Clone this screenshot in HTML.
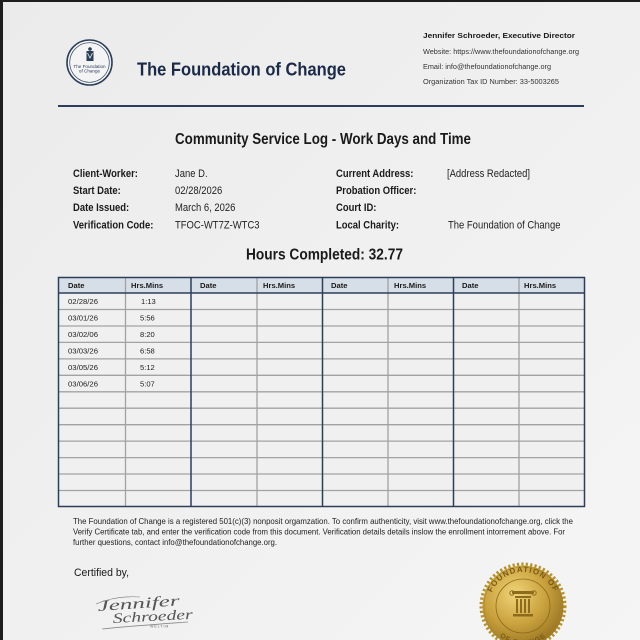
<!DOCTYPE html>
<html><head><meta charset="utf-8"><style>
html,body{margin:0;padding:0;width:640px;height:640px;overflow:hidden;background:#eee}
svg{display:block}
text{font-family:"Liberation Sans",Arial,sans-serif}
</style></head><body>
<svg width="640" height="640" viewBox="0 0 640 640" xmlns="http://www.w3.org/2000/svg">
<defs>
<linearGradient id="bg" x1="0" y1="0" x2="1" y2="1">
<stop offset="0" stop-color="#ebebeb"/><stop offset="1" stop-color="#f5f5f5"/>
</linearGradient>
<radialGradient id="gold" cx="0.4" cy="0.35" r="0.75">
<stop offset="0" stop-color="#f0d478"/><stop offset="0.5" stop-color="#caa23e"/><stop offset="1" stop-color="#8d6a1c"/>
</radialGradient>
<path id="arcTop" d="M 489 606 A 34 34 0 0 1 557 606"/>
<path id="arcBot" d="M 487 609 A 36 36 0 0 0 559 609"/>
</defs>
<rect width="640" height="640" fill="url(#bg)"/>
<rect x="0" y="0" width="640" height="2" fill="#1e1e1e"/>
<rect x="0" y="0" width="3" height="640" fill="#1e1e1e"/>

<!-- Logo -->
<circle cx="89.5" cy="62.5" r="22.5" fill="#f4f4f4" stroke="#2c3e5a" stroke-width="1.6"/>
<circle cx="89.5" cy="62.5" r="19.8" fill="none" stroke="#2c3e5a" stroke-width="0.7"/>
<rect x="86.5" y="51" width="7" height="10" fill="#2c3e5a"/>
<circle cx="90" cy="49" r="1.8" fill="#2c3e5a"/>
<path d="M87.5 53 L90 58 L92.5 53" fill="none" stroke="#f4f4f4" stroke-width="0.8"/>
<text x="89.5" y="68" font-size="4.6" fill="#2c3e5a" text-anchor="middle">The Foundation</text>
<text x="89.5" y="72.5" font-size="4.6" fill="#2c3e5a" text-anchor="middle">of Change</text>

<text x="137" y="75.5" font-size="18" font-weight="bold" fill="#1b2a48" textLength="209" lengthAdjust="spacingAndGlyphs">The Foundation of Change</text>

<text x="423" y="38" font-size="7.6" font-weight="bold" fill="#1a1a1a" textLength="152" lengthAdjust="spacingAndGlyphs">Jennifer Schroeder, Executive Director</text>
<text x="423" y="54" font-size="7.6" fill="#333" textLength="156" lengthAdjust="spacingAndGlyphs">Website: https://www.thefoundationofchange.org</text>
<text x="423" y="69" font-size="7.6" fill="#333" textLength="128" lengthAdjust="spacingAndGlyphs">Email: info@thefoundationofchange.org</text>
<text x="423" y="84" font-size="7.6" fill="#333" textLength="136" lengthAdjust="spacingAndGlyphs">Organization Tax ID Number: 33-5003265</text>

<rect x="58" y="105" width="526" height="2" fill="#2c3e5a"/>

<text x="175" y="144" font-size="16" font-weight="bold" fill="#1a1a1a" textLength="296" lengthAdjust="spacingAndGlyphs">Community Service Log - Work Days and Time</text>

<g font-size="11" fill="#1a1a1a">
<text transform="translate(73,177) scale(0.86,1)" font-weight="bold">Client-Worker:</text>
<text transform="translate(73,194) scale(0.86,1)" font-weight="bold">Start Date:</text>
<text transform="translate(73,211) scale(0.86,1)" font-weight="bold">Date Issued:</text>
<text transform="translate(73,228.5) scale(0.86,1)" font-weight="bold">Verification Code:</text>
<text transform="translate(175,177) scale(0.86,1)" fill="#222">Jane D.</text>
<text transform="translate(175,194) scale(0.86,1)" fill="#222">02/28/2026</text>
<text transform="translate(175,211) scale(0.86,1)" fill="#222">March 6, 2026</text>
<text transform="translate(175,228.5) scale(0.86,1)" fill="#222">TFOC-WT7Z-WTC3</text>
<text transform="translate(336,177) scale(0.86,1)" font-weight="bold">Current Address:</text>
<text transform="translate(336,194) scale(0.86,1)" font-weight="bold">Probation Officer:</text>
<text transform="translate(336,211) scale(0.86,1)" font-weight="bold">Court ID:</text>
<text transform="translate(336,228.5) scale(0.86,1)" font-weight="bold">Local Charity:</text>
<text transform="translate(447,177) scale(0.86,1)" fill="#222">[Address Redacted]</text>
<text transform="translate(448,228.5) scale(0.86,1)" fill="#222">The Foundation of Change</text>
</g>

<text x="246" y="259.5" font-size="15.5" font-weight="bold" fill="#1a1a1a" textLength="157" lengthAdjust="spacingAndGlyphs">Hours Completed: 32.77</text>

<!-- Table -->
<rect x="58" y="277" width="527" height="230" fill="#f0f0f0"/>
<rect x="58" y="277" width="527" height="16" fill="#d6dee7"/>
<g stroke="#a2a2a2" stroke-width="1.3">
<line x1="58" y1="309.5" x2="585" y2="309.5"/>
<line x1="58" y1="326" x2="585" y2="326"/>
<line x1="58" y1="342.4" x2="585" y2="342.4"/>
<line x1="58" y1="358.9" x2="585" y2="358.9"/>
<line x1="58" y1="375.3" x2="585" y2="375.3"/>
<line x1="58" y1="391.8" x2="585" y2="391.8"/>
<line x1="58" y1="408.2" x2="585" y2="408.2"/>
<line x1="58" y1="424.7" x2="585" y2="424.7"/>
<line x1="58" y1="441.1" x2="585" y2="441.1"/>
<line x1="58" y1="457.6" x2="585" y2="457.6"/>
<line x1="58" y1="474" x2="585" y2="474"/>
<line x1="58" y1="490.5" x2="585" y2="490.5"/>
<line x1="125.5" y1="277" x2="125.5" y2="507"/>
<line x1="257" y1="277" x2="257" y2="507"/>
<line x1="388" y1="277" x2="388" y2="507"/>
<line x1="519" y1="277" x2="519" y2="507"/>
</g>
<g stroke="#2c3e5a" stroke-width="1.5" fill="none">
<rect x="58.5" y="277.5" width="526" height="229"/>
<line x1="58" y1="293" x2="585" y2="293"/>
<line x1="191" y1="277" x2="191" y2="507"/>
<line x1="322.5" y1="277" x2="322.5" y2="507"/>
<line x1="453.5" y1="277" x2="453.5" y2="507"/>
</g>
<g font-size="7.6" font-weight="bold" fill="#1a1a1a">
<text x="68" y="288">Date</text><text x="131" y="288">Hrs.Mins</text>
<text x="200" y="288">Date</text><text x="263" y="288">Hrs.Mins</text>
<text x="331" y="288">Date</text><text x="394" y="288">Hrs.Mins</text>
<text x="462" y="288">Date</text><text x="524" y="288">Hrs.Mins</text>
</g>
<g font-size="7.6" fill="#222">
<text x="68" y="304" textLength="30" lengthAdjust="spacingAndGlyphs">02/28/26</text><text x="141" y="304">1:13</text>
<text x="68" y="320.5" textLength="30" lengthAdjust="spacingAndGlyphs">03/01/26</text><text x="140" y="320.5">5:56</text>
<text x="68" y="337" textLength="30" lengthAdjust="spacingAndGlyphs">03/02/06</text><text x="140" y="337">8:20</text>
<text x="68" y="353.5" textLength="30" lengthAdjust="spacingAndGlyphs">03/03/26</text><text x="140" y="353.5">6:58</text>
<text x="68" y="370" textLength="30" lengthAdjust="spacingAndGlyphs">03/05/26</text><text x="140" y="370">5:12</text>
<text x="68" y="386.5" textLength="30" lengthAdjust="spacingAndGlyphs">03/06/26</text><text x="140" y="386.5">5:07</text>
</g>

<!-- Footer -->
<g font-size="8" fill="#222">
<text x="73" y="524" textLength="500" lengthAdjust="spacingAndGlyphs">The Foundation of Change is a registered 501(c)(3) nonposit orgamzation. To confirm authenticity, visit www.thefoundationofchange.org, click the</text>
<text x="73" y="534.5" textLength="492" lengthAdjust="spacingAndGlyphs">Verify Certificate tab, and enter the verification code from this document. Verification details details inslow the enrollment intorrement above. For</text>
<text x="73" y="545" textLength="204" lengthAdjust="spacingAndGlyphs">further questions, contact info@thefoundationofchange.org.</text>
</g>
<text x="74" y="576" font-size="11" fill="#1a1a1a" textLength="55" lengthAdjust="spacingAndGlyphs">Certified by,</text>

<!-- Signature -->
<g fill="#555" font-style="italic">
<text x="98" y="611" font-size="15" transform="rotate(-4 98 611)" style="font-family:'Liberation Serif',serif" textLength="82" lengthAdjust="spacingAndGlyphs">Jennifer</text>
<text x="113" y="623" font-size="14" transform="rotate(-3 113 623)" style="font-family:'Liberation Serif',serif" textLength="80" lengthAdjust="spacingAndGlyphs">Schroeder</text>
</g>
<text x="150" y="627.5" font-size="3.5" fill="#666" letter-spacing="1">WELTIM</text>
<path d="M102 629 C130 626 160 624 188 622" stroke="#888" stroke-width="0.8" fill="none"/>
<path d="M96 604 C110 598 125 596 140 597" stroke="#777" stroke-width="0.6" fill="none"/>

<!-- Seal -->
<circle cx="523" cy="606" r="41.5" fill="none" stroke="#b8912e" stroke-width="4" stroke-dasharray="2.2 2.2"/>
<circle cx="523" cy="606" r="40.5" fill="url(#gold)"/>
<circle cx="523" cy="606" r="39" fill="none" stroke="#a88425" stroke-width="0.6"/>
<circle cx="523" cy="606" r="27" fill="none" stroke="#8d6a1c" stroke-width="0.8"/>
<text font-size="8" font-weight="bold" fill="#7a5a14" letter-spacing="1"><textPath href="#arcTop" startOffset="50%" text-anchor="middle">FOUNDATION OF</textPath></text>
<text font-size="7" font-weight="bold" fill="#7a5a14" letter-spacing="1"><textPath href="#arcBot" startOffset="50%" text-anchor="middle">OF CHANGE</textPath></text>
<g fill="#8d6a1c">
<rect x="512" y="591" width="22" height="3" rx="1"/>
<circle cx="512" cy="593" r="2.2" fill="none" stroke="#8d6a1c" stroke-width="1"/>
<circle cx="534" cy="593" r="2.2" fill="none" stroke="#8d6a1c" stroke-width="1"/>
<rect x="515" y="596" width="16" height="2"/>
<rect x="516" y="599" width="2" height="14"/>
<rect x="520" y="599" width="2" height="14"/>
<rect x="524" y="599" width="2" height="14"/>
<rect x="528" y="599" width="2" height="14"/>
<rect x="513" y="614" width="20" height="2.5"/>
</g>
</svg>
</body></html>
